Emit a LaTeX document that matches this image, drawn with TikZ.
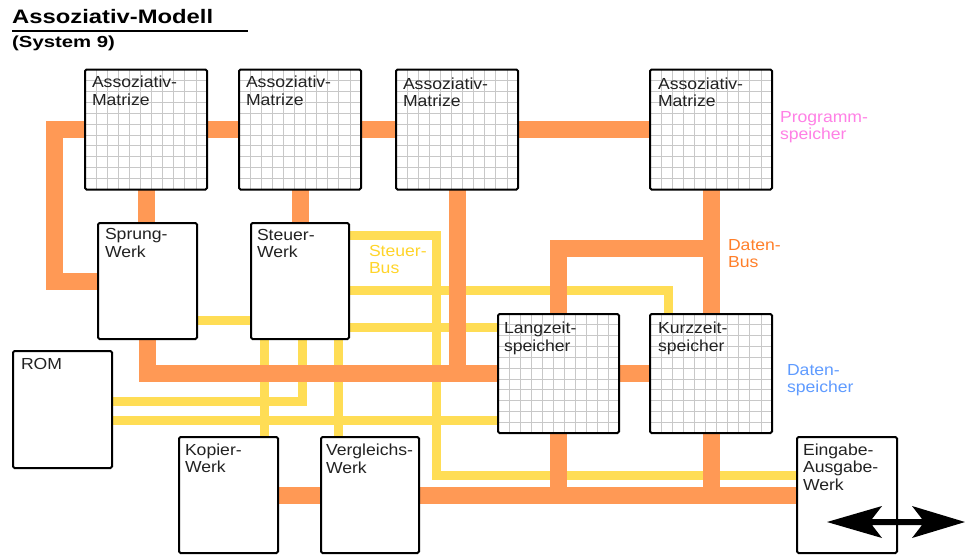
\documentclass[tikz,border=0pt]{standalone}
\usepackage{fontspec}
\setmainfont{Liberation Sans}[FakeStretch=1.1]
\newfontfamily\ttlA{Liberation Sans}[FakeStretch=1.22]
\newfontfamily\ttlB{Liberation Sans}[FakeStretch=1.27]
\usetikzlibrary{calc}
\definecolor{busO}{HTML}{FF9955}
\definecolor{busY}{HTML}{FFDD55}
\definecolor{txt}{HTML}{222222}
\definecolor{pinkT}{HTML}{FF80E5}
\definecolor{orangeT}{HTML}{FF7F2A}
\definecolor{yellowT}{HTML}{FFD42A}
\definecolor{blueT}{HTML}{5F9BFF}
\definecolor{gridc}{HTML}{C8C8C8}
\tikzset{
  blk/.style={draw=black, line width=2pt, fill=white, inner sep=0pt, outer sep=0pt, rounded corners=1.5pt, anchor=north west},
  mgrid/.style={path picture={
    \foreach \i in {1,...,10}{
      \draw[gridc, line width=0.8pt] ($(path picture bounding box.north west)!\i/11!(path picture bounding box.north east)$) -- ($(path picture bounding box.south west)!\i/11!(path picture bounding box.south east)$);
      \draw[gridc, line width=0.8pt] ($(path picture bounding box.north west)!\i/11!(path picture bounding box.south west)$) -- ($(path picture bounding box.north east)!\i/11!(path picture bounding box.south east)$);
    }}},
  lbl/.style={anchor=north west, inner sep=0pt, outer sep=0pt, align=left, font=\fontsize{16}{17.5}\selectfont, text=txt},
  obus/.style={draw=busO, line width=17pt},
  ybus/.style={draw=busY, line width=9pt},
}
\begin{document}
\begin{tikzpicture}[x=1pt,y=-1pt]
\useasboundingbox (0,0) rectangle (965,555);
% title
\node[anchor=base west, inner sep=0pt] (title) at (12,23.3) {\ttlA\bfseries\fontsize{19.5}{22}\selectfont Assoziativ-Modell};
\node[anchor=base west, inner sep=0pt] (subtitle) at (12,47.5) {\ttlB\bfseries\fontsize{16}{18}\selectfont (System 9)};
\coordinate (ulA) at (12,30.7);
\coordinate (ulB) at (248,30.7);
\draw[line width=2.3pt] (ulA) -- (ulB);

% box coordinates (nodes defined first, drawn later via path order)
\path
  (85,69.5) node[blk, minimum width=122pt, minimum height=120pt, draw=none, fill=none] (am1) {}
  (239,69.5) node[blk, minimum width=122pt, minimum height=120pt, draw=none, fill=none] (am2) {}
  (396,69.5) node[blk, minimum width=122pt, minimum height=120pt, draw=none, fill=none] (am3) {}
  (650,69.5) node[blk, minimum width=122pt, minimum height=120pt, draw=none, fill=none] (am4) {}
  (98,223) node[blk, minimum width=99pt, minimum height=116pt, draw=none, fill=none] (sprung) {}
  (251,223) node[blk, minimum width=98pt, minimum height=116pt, draw=none, fill=none] (steuer) {}
  (13,351) node[blk, minimum width=99pt, minimum height=117pt, draw=none, fill=none] (rom) {}
  (498,314) node[blk, minimum width=121pt, minimum height=119pt, draw=none, fill=none] (lang) {}
  (650,314) node[blk, minimum width=122pt, minimum height=119pt, draw=none, fill=none] (kurz) {}
  (179,437) node[blk, minimum width=99pt, minimum height=116pt, draw=none, fill=none] (kopier) {}
  (321,437) node[blk, minimum width=98pt, minimum height=116pt, draw=none, fill=none] (vergl) {}
  (797,437) node[blk, minimum width=100pt, minimum height=116pt, draw=none, fill=none] (ea) {};

% yellow control bus
\coordinate (yA) at (436,235);
\coordinate (yB) at (436,475);
\coordinate (yC) at (668,290);
\coordinate (yD) at (302,401);
\draw[ybus] (sprung.east |- 0,320) -- (steuer.west |- 0,320);
\draw[ybus] (steuer.east |- yA) -- (yA) -- (yB) -- (ea.west |- yB);
\draw[ybus] (steuer.east |- yC) -| (kurz.north -| yC);
\draw[ybus] (steuer.east |- 0,327) -- (lang.west |- 0,327);
\draw[ybus] (steuer.south -| yD) -- (yD) -- (rom.east |- yD);
\draw[ybus] (steuer.south -| 264,0) -- (kopier.north -| 264,0);
\draw[ybus] (steuer.south -| 338,0) -- (vergl.north -| 338,0);
\draw[ybus] (rom.east |- 0,420) -- (lang.west |- 0,420);

% orange data bus
\draw[obus] (am1.west) -- ++(-31,0) |- (sprung.west);
\draw[obus] (am1.east) -- (am2.west);
\draw[obus] (am2.east) -- (am3.west);
\draw[obus] (am3.east) -- (am4.west);
\draw[obus] (am1.south) -- (am1.south |- sprung.north);
\draw[obus] (am2.south) -- (am2.south |- steuer.north);
\draw[obus] (am3.south) -- (am3.south |- lang.west);
\draw[obus] (sprung.south) |- (lang.west);
\draw[obus] (lang.east) -- (kurz.west);
\draw[obus] (am4.south) -- (kurz.north);
\draw[obus] (lang.north) |- (am4.south |- 0,248);
\draw[obus] (lang.south) -- (lang.south |- ea.west);
\draw[obus] (kurz.south) -- (kurz.south |- ea.west);
\draw[obus] (vergl.east) -- (ea.west);
\draw[obus] (kopier.east) -- (vergl.west);

% boxes drawn
\node[blk, mgrid, minimum width=122pt, minimum height=120pt] (am1b) at (am1.north west) {};
\node[blk, mgrid, minimum width=122pt, minimum height=120pt] (am2b) at (am2.north west) {};
\node[blk, mgrid, minimum width=122pt, minimum height=120pt] (am3b) at (am3.north west) {};
\node[blk, mgrid, minimum width=122pt, minimum height=120pt] (am4b) at (am4.north west) {};
\node[blk, minimum width=99pt, minimum height=116pt] (sprungb) at (sprung.north west) {};
\node[blk, minimum width=98pt, minimum height=116pt] (steuerb) at (steuer.north west) {};
\node[blk, minimum width=99pt, minimum height=117pt] (romb) at (rom.north west) {};
\node[blk, mgrid, minimum width=121pt, minimum height=119pt] (langb) at (lang.north west) {};
\node[blk, mgrid, minimum width=122pt, minimum height=119pt] (kurzb) at (kurz.north west) {};
\node[blk, minimum width=99pt, minimum height=116pt] (kopierb) at (kopier.north west) {};
\node[blk, minimum width=98pt, minimum height=116pt] (verglb) at (vergl.north west) {};
\node[blk, minimum width=100pt, minimum height=116pt] (eab) at (ea.north west) {};

% box labels
\node[lbl] (am1l) at ($(am1.north west)+(7,6.5)$) {Assoziativ-\\Matrize};
\node[lbl] (am2l) at ($(am2.north west)+(7,6.5)$) {Assoziativ-\\Matrize};
\node[lbl] (am3l) at ($(am3.north west)+(7,8)$) {Assoziativ-\\Matrize};
\node[lbl] (am4l) at ($(am4.north west)+(8,8)$) {Assoziativ-\\Matrize};
\node[lbl] (sprungl) at ($(sprung.north west)+(7,5.5)$) {Sprung-\\Werk};
\node[lbl] (steuerl) at ($(steuer.north west)+(6,6)$) {Steuer-\\Werk};
\node[lbl] (roml) at ($(rom.north west)+(8,7)$) {ROM};
\node[lbl] (langl) at ($(lang.north west)+(6,8)$) {Langzeit-\\speicher};
\node[lbl] (kurzl) at ($(kurz.north west)+(8,8)$) {Kurzzeit-\\speicher};
\node[lbl] (kopierl) at ($(kopier.north west)+(6,6.5)$) {Kopier-\\Werk};
\node[lbl] (vergll) at ($(vergl.north west)+(5,7)$) {Vergleichs-\\Werk};
\node[lbl] (eal) at ($(ea.north west)+(6,6.5)$) {Eingabe-\\Ausgabe-\\Werk};

% side labels
\node[lbl, text=pinkT] (prog) at (780,111) {Programm-\\speicher};
\node[lbl, text=orangeT] (dbus) at (728,239) {Daten-\\Bus};
\node[lbl, text=yellowT] (sbus) at (369,245) {Steuer-\\Bus};
\node[lbl, text=blueT] (dsp) at (787,364) {Daten-\\speicher};

% I/O double arrow
\coordinate (ioL) at (827,522);
\coordinate (ioR) at (965,522);
\fill[black] (ioL) -- ++(55,-16) -- ++(-10,13) -- ++(50,0) -- ++(-10,-13) -- (ioR)
  -- ++(-53,16) -- ++(10,-13) -- ++(-50,0) -- ++(10,13) -- cycle;
\end{tikzpicture}
\end{document}
